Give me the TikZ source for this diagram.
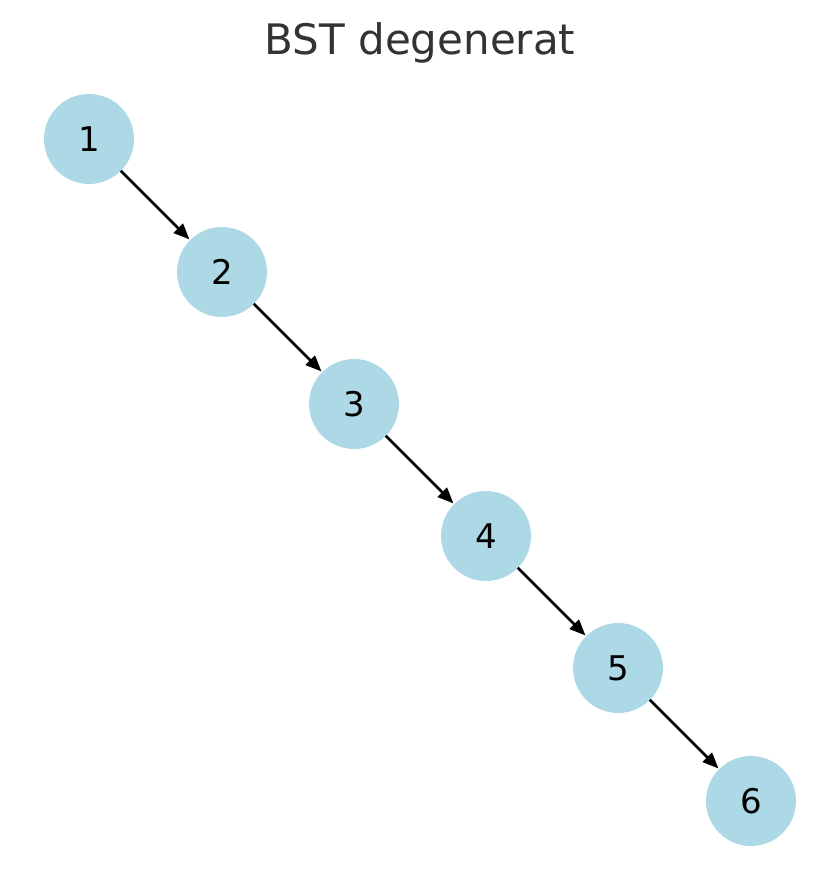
\documentclass[tikz,border=0pt]{standalone}
\usepackage{fontspec}
\setmainfont{DejaVu Sans}
\usetikzlibrary{arrows.meta}
\definecolor{nodeblue}{HTML}{ADD8E6}
\definecolor{titlegray}{HTML}{333333}
\begin{document}
\begin{tikzpicture}[x=1pt,y=-1pt,
  vtx/.style={circle,fill=nodeblue,inner sep=0pt,outer sep=0pt,minimum size=90pt,font=\fontsize{34}{40}\selectfont,text=black},
  edge/.style={-{Triangle[length=16pt,width=13pt]},line width=2.5pt,black,shorten >=1pt}]
\useasboundingbox (0,0) rectangle (839,890);
\node[text=titlegray,font=\fontsize{42}{48}\selectfont,anchor=base] (title) at (420,55) {BST degenerat};
\node[vtx] (n1) at (89,139) {1};
\node[vtx] (n2) at (222,272) {2};
\node[vtx] (n3) at (354,404) {3};
\node[vtx] (n4) at (486,536) {4};
\node[vtx] (n5) at (618,668) {5};
\node[vtx] (n6) at (751,801) {6};
\draw[edge] (n1) -- (n2);
\draw[edge] (n2) -- (n3);
\draw[edge] (n3) -- (n4);
\draw[edge] (n4) -- (n5);
\draw[edge] (n5) -- (n6);
\end{tikzpicture}
\end{document}
